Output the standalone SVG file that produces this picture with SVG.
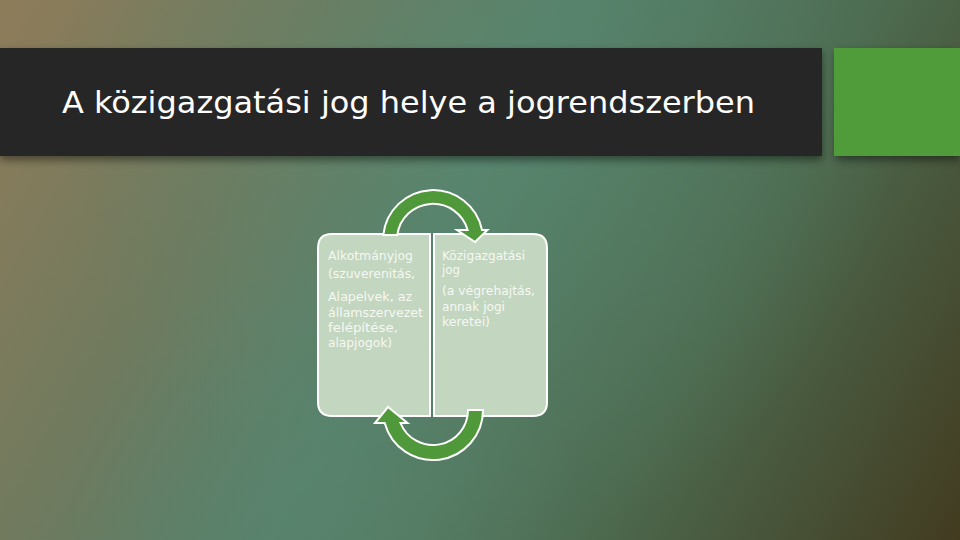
<svg xmlns="http://www.w3.org/2000/svg" width="960" height="540" viewBox="0 0 960 540">
  <defs>
    <linearGradient id="bg" x1="0" y1="0" x2="960" y2="540" gradientUnits="userSpaceOnUse">
      <stop offset="0" stop-color="#8e7c5a"/>
      <stop offset="0.25" stop-color="#707a5e"/>
      <stop offset="0.45" stop-color="#56806a"/>
      <stop offset="0.7" stop-color="#4d6b50"/>
      <stop offset="1" stop-color="#423b20"/>
    </linearGradient>
    <radialGradient id="glow" cx="480" cy="120" r="420" gradientUnits="userSpaceOnUse">
      <stop offset="0" stop-color="#5a8a72" stop-opacity="0.5"/>
      <stop offset="1" stop-color="#5a8a72" stop-opacity="0"/>
    </radialGradient>
    <radialGradient id="glow2" cx="330" cy="520" r="260" gradientUnits="userSpaceOnUse">
      <stop offset="0" stop-color="#5b8670" stop-opacity="0.55"/>
      <stop offset="1" stop-color="#5b8670" stop-opacity="0"/>
    </radialGradient>
    <filter id="sh" x="-5%" y="-20%" width="110%" height="150%">
      <feGaussianBlur stdDeviation="4"/>
    </filter>
    <style>
      .box { fill: #c3d6bf; stroke: #ffffff; stroke-width: 2; }
      .arrow { fill: #50993a; stroke: #ffffff; stroke-width: 2; stroke-linejoin: miter; }
      .t { font-family: "DejaVu Sans Condensed", "DejaVu Sans", sans-serif; font-stretch: condensed; font-size: 12px; fill: #f6f8f4; }
      .title { font-family: "DejaVu Sans Condensed", "DejaVu Sans", sans-serif; font-stretch: condensed; font-size: 30px; fill: #ffffff; }
    </style>
  </defs>

  <rect width="960" height="540" fill="url(#bg)"/>
  <rect width="960" height="540" fill="url(#glow)"/>
  <rect width="960" height="540" fill="url(#glow2)"/>

  <g id="header">
    <rect x="0" y="52" width="822" height="108" fill="#000" opacity="0.45" filter="url(#sh)"/>
    <rect x="836" y="52" width="124" height="108" fill="#000" opacity="0.45" filter="url(#sh)"/>
    <rect x="0" y="48" width="822" height="108" fill="#262626"/>
    <rect x="834" y="48" width="126" height="108" fill="#509b3a"/>
    <text class="title" x="62" y="113" textLength="693" lengthAdjust="spacingAndGlyphs">A közigazgatási jog helye a jogrendszerben</text>
  </g>

  <g id="node-alkotmanyjog">
    <path class="box" d="M332 234 L430 234 L430 416 L332 416 Q318 416 318 402 L318 248 Q318 234 332 234 Z"/>
    <text class="t" x="328" y="260" textLength="85" lengthAdjust="spacingAndGlyphs">Alkotmányjog</text>
    <text class="t" x="328" y="278" textLength="87" lengthAdjust="spacingAndGlyphs">(szuverenitás,</text>
    <text class="t" x="328" y="301" textLength="84" lengthAdjust="spacingAndGlyphs">Alapelvek, az</text>
    <text class="t" x="328" y="317" textLength="95" lengthAdjust="spacingAndGlyphs">államszervezet</text>
    <text class="t" x="328" y="332" textLength="70" lengthAdjust="spacingAndGlyphs">felépítése,</text>
    <text class="t" x="328" y="347" textLength="64" lengthAdjust="spacingAndGlyphs">alapjogok)</text>
  </g>

  <g id="node-kozigazgatasi">
    <path class="box" d="M434 234 L533 234 Q547 234 547 248 L547 402 Q547 416 533 416 L434 416 Z"/>
    <text class="t" x="442" y="260" textLength="83" lengthAdjust="spacingAndGlyphs">Közigazgatási</text>
    <text class="t" x="442" y="274" textLength="18" lengthAdjust="spacingAndGlyphs">jog</text>
    <text class="t" x="442" y="295" textLength="93" lengthAdjust="spacingAndGlyphs">(a végrehajtás,</text>
    <text class="t" x="442" y="311" textLength="63" lengthAdjust="spacingAndGlyphs">annak jogi</text>
    <text class="t" x="442" y="326" textLength="48" lengthAdjust="spacingAndGlyphs">keretei)</text>
  </g>

  <g id="connectors">
    <path class="arrow" d="M383.3 235 A50 50 0 0 1 482 230 L487.5 230 L475 242 L457 230 L467.6 230 A36 36 0 0 0 397.3 235 Z"/>
    <path class="arrow" d="M483 410 A50 50 0 0 1 384.7 423 L375 423 L388 407 L407.5 423 L400.5 423 A35 35 0 0 0 468 410 Z"/>
  </g>
</svg>
